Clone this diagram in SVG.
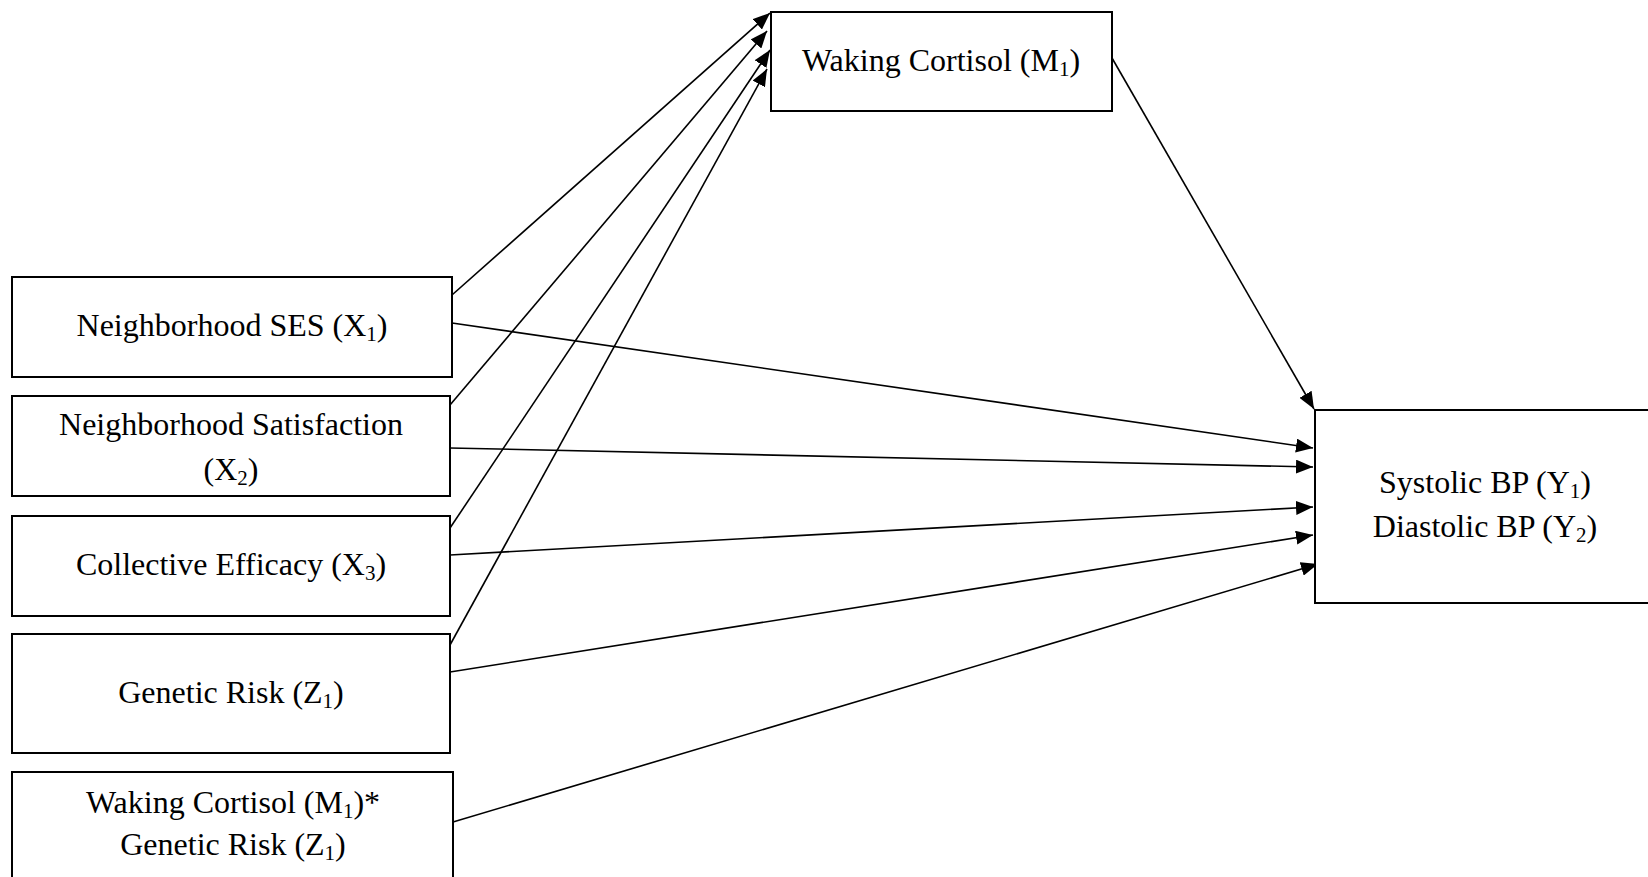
<svg xmlns="http://www.w3.org/2000/svg" width="1648" height="877" viewBox="0 0 1648 877">
<style>
.box{fill:#fff;stroke:#000;stroke-width:2}
.t{font-family:"Liberation Serif","Times New Roman",serif;font-size:32px;fill:#000;text-anchor:middle}
.sub{font-size:21px}
.c{stroke:#000;stroke-width:1.6;fill:none;marker-end:url(#ah)}
</style>
<defs>
<marker id="ah" markerUnits="userSpaceOnUse" markerWidth="18" markerHeight="14" refX="17" refY="7" orient="auto">
<path d="M0,0 L17,7 L0,14 z" fill="#000"/>
</marker>
</defs>
<rect width="1648" height="877" fill="#fff"/>
<g id="connectors">
<line class="c" x1="452" y1="295" x2="770" y2="13"/>
<line class="c" x1="450" y1="405" x2="767" y2="31"/>
<line class="c" x1="450" y1="528" x2="770" y2="50"/>
<line class="c" x1="450" y1="645" x2="767" y2="69"/>
<line class="c" x1="1112" y1="58" x2="1314" y2="409"/>
<line class="c" x1="452" y1="323" x2="1313" y2="448"/>
<line class="c" x1="450" y1="448" x2="1313" y2="467"/>
<line class="c" x1="450" y1="555" x2="1313" y2="507"/>
<line class="c" x1="450" y1="672" x2="1313" y2="535"/>
<line class="c" x1="453" y1="822" x2="1318" y2="564"/>
</g>
<g id="m1">
<rect class="box" x="771" y="12" width="341" height="99"/>
<text class="t" x="941" y="71">Waking Cortisol (M<tspan class="sub" dy="5">1</tspan><tspan dy="-5">)</tspan></text>
</g>
<g id="x1">
<rect class="box" x="12" y="277" width="440" height="100"/>
<text class="t" x="232" y="336">Neighborhood SES (X<tspan class="sub" dy="5">1</tspan><tspan dy="-5">)</tspan></text>
</g>
<g id="x2">
<rect class="box" x="12" y="396" width="438" height="100"/>
<text class="t" x="231" y="435">Neighborhood Satisfaction</text>
<text class="t" x="231" y="480">(X<tspan class="sub" dy="5">2</tspan><tspan dy="-5">)</tspan></text>
</g>
<g id="x3">
<rect class="box" x="12" y="516" width="438" height="100"/>
<text class="t" x="231" y="575">Collective Efficacy (X<tspan class="sub" dy="5">3</tspan><tspan dy="-5">)</tspan></text>
</g>
<g id="z1">
<rect class="box" x="12" y="634" width="438" height="119"/>
<text class="t" x="231" y="703">Genetic Risk (Z<tspan class="sub" dy="5">1</tspan><tspan dy="-5">)</tspan></text>
</g>
<g id="mz">
<rect class="box" x="12" y="772" width="441" height="120"/>
<text class="t" x="233" y="813">Waking Cortisol (M<tspan class="sub" dy="5">1</tspan><tspan dy="-5">)*</tspan></text>
<text class="t" x="233" y="855">Genetic Risk (Z<tspan class="sub" dy="5">1</tspan><tspan dy="-5">)</tspan></text>
</g>
<g id="y">
<rect class="box" x="1315" y="410" width="350" height="193"/>
<text class="t" x="1485" y="493">Systolic BP (Y<tspan class="sub" dy="5">1</tspan><tspan dy="-5">)</tspan></text>
<text class="t" x="1485" y="537">Diastolic BP (Y<tspan class="sub" dy="5">2</tspan><tspan dy="-5">)</tspan></text>
</g>
</svg>
